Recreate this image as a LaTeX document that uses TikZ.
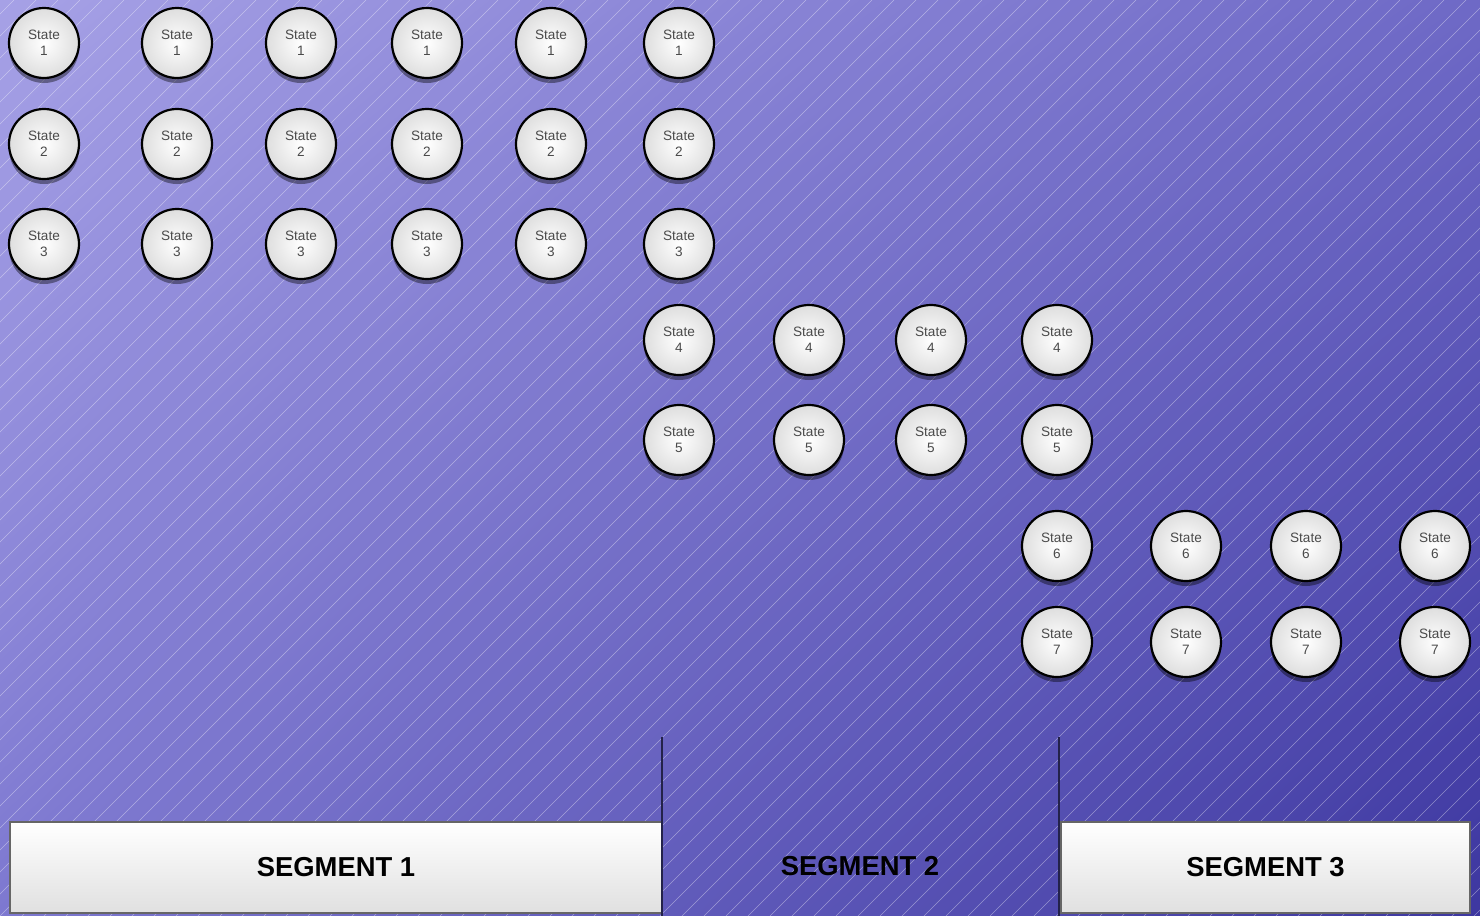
\documentclass[tikz,border=0pt]{standalone}
\usepackage{fontspec}
\setmainfont{Liberation Sans}
\usetikzlibrary{shadows,shadings,positioning}
\definecolor{bgtopleft}{HTML}{A6A1E6}
\definecolor{bgtopright}{HTML}{6E69C6}
\definecolor{bgbotleft}{HTML}{7D78D0}
\definecolor{bgbotright}{HTML}{3D37A0}
\definecolor{statetext}{HTML}{4A4A4A}
\definecolor{dividerblue}{HTML}{23224A}

\begin{document}
\begin{tikzpicture}[x=0.5pt, y=-0.5pt,
    statenode/.style={circle, draw=black, line width=1.1pt, minimum size=35pt,
      inner sep=0pt, inner color=white, outer color=black!13, align=center,
      text=statetext, font=\fontsize{6.8}{8}\selectfont,
      drop shadow={shadow xshift=0pt, shadow yshift=-2.5pt, opacity=.4, fill=black}},
    segbox/.style={draw=black!60, line width=.6pt, top color=white,
      bottom color=black!12, minimum width=#1, minimum height=45.5pt,
      inner sep=0pt, font=\fontsize{13.7}{16}\selectfont\bfseries},
    seglabel/.style={font=\fontsize{13.7}{16}\selectfont\bfseries},
    divider/.style={draw=dividerblue, line width=1.3pt},
    hatch/.style={white, opacity=.4, line width=.3pt}
  ]
  \useasboundingbox (0,0) rectangle (1480,916);

  % background
  \shade[upper left=bgtopleft, upper right=bgtopright,
    lower left=bgbotleft, lower right=bgbotright] (0,0) rectangle (1480,916);
  \begin{scope}
    \clip (0,0) rectangle (1480,916);
    \foreach \k in {-924,-902,...,1480}
      \draw[hatch] (\k,916) -- ++(916,-916);
  \end{scope}

  % states
  \foreach \r/\y in {1/43,2/144,3/244}
    \foreach \c/\x in {1/44,2/177,3/301,4/427,5/551,6/679}
      \node[statenode] (s\r\c) at (\x,\y) {State\\\r};
  \foreach \r/\y in {4/340,5/440}
    \foreach \c/\x in {1/679,2/809,3/931,4/1057}
      \node[statenode] (s\r\c) at (\x,\y) {State\\\r};
  \foreach \r/\y in {6/546,7/642}
    \foreach \c/\x in {1/1057,2/1186,3/1306,4/1435}
      \node[statenode] (s\r\c) at (\x,\y) {State\\\r};

  % segments
  \node[segbox=326pt] (seg1) at (336,867.5) {SEGMENT 1};
  \node[seglabel] (seg2) at (860,866) {SEGMENT 2};
  \node[segbox=204.5pt] (seg3) at (1265.5,867.5) {SEGMENT 3};
  \coordinate (div1top) at (662,737);
  \coordinate (div2top) at (1059,737);
  \draw[divider] (div1top) -- (div1top |- 0,916);
  \draw[divider] (div2top) -- (div2top |- 0,916);
\end{tikzpicture}
\end{document}
